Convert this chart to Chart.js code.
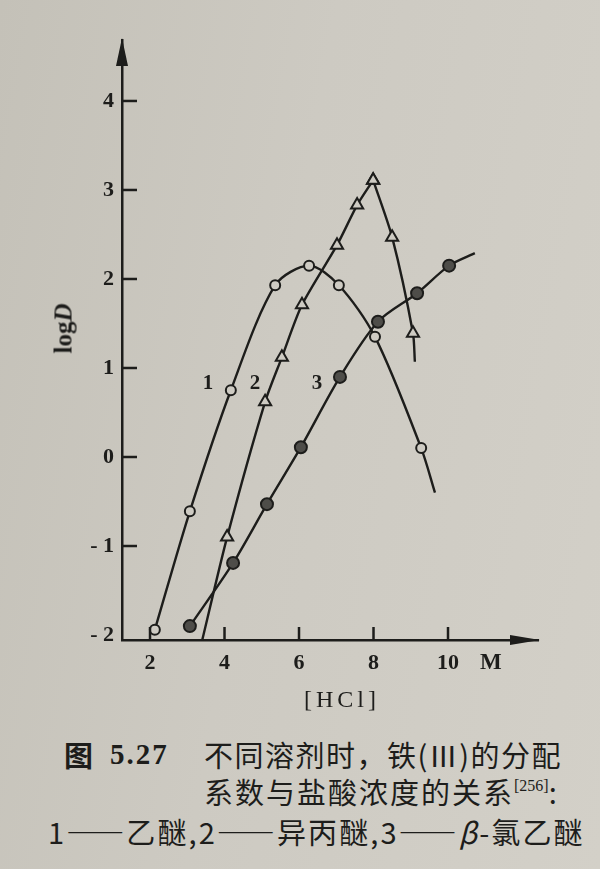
<!DOCTYPE html>
<html lang="zh">
<head>
<meta charset="UTF-8">
<title>图 5.27 铁(Ⅲ)的分配系数与盐酸浓度</title>
<script src="https://cdn.jsdelivr.net/npm/chart.js"></script>
<style>
    body { margin: 0; }
    .page {
        position: relative;
        width: 600px;
        height: 869px;
        overflow: hidden;
        background: linear-gradient(100deg, #c4c1b8 0%, #cdcac2 45%, #d3d0c8 100%);
        color: #1d1d1b;
        font-family: "Liberation Serif", serif;
    }
    #chart { position: absolute; left: 0; top: 0; }
    .txt { position: absolute; white-space: nowrap; line-height: 1; }
    .ylab { left: 38px; top: 316px; font-size: 25px; font-weight: bold; transform: rotate(-90deg); transform-origin: center; }
    .ylab i { font-style: italic; }
    .unit { left: 480px; top: 650px; font-size: 23px; font-weight: bold; }
    .xlab { left: 304px; top: 687px; font-size: 24px; letter-spacing: 4px; }
    .cap { font-family: "Noto Sans CJK SC", sans-serif; font-size: 29px; letter-spacing: 1.5px; }
    .cap sup { font-family: "Liberation Serif", serif; font-size: 16px; vertical-align: 13px; letter-spacing: 0; }
</style>
</head>
<body>
<div class="page">
    <canvas id="chart" width="600" height="720"></canvas>

    <div class="txt ylab">log<i>D</i></div>
    <div class="txt unit">M</div>
    <div class="txt xlab">[HCl]</div>

    <div class="txt cap" style="left:64px; top:740px; font-weight:bold;">图</div>
    <div class="txt cap" style="left:110px; top:740px; font-family:'Liberation Serif', serif; font-weight:bold; letter-spacing:2px;">5.27</div>
    <div class="txt cap" style="left:204px; top:740px;">不同溶剂时，铁(Ⅲ)的分配</div>
    <div class="txt cap" style="left:204px; top:777px; letter-spacing:2px;">系数与盐酸浓度的关系<sup>[256]</sup>:</div>
    <div class="txt cap" style="left:48px; top:817px; letter-spacing:2.1px;">1——乙醚,2——异丙醚,3——<i>β</i>-氯乙醚</div>
</div>

<script>
    // values: x = [HCl] (M), y = log D
    const xTicks = [2, 4, 6, 8, 10];
    const yTicks = [-2, -1, 0, 1, 2, 3, 4];
    const yTickLabels = ['- 2', '- 1', '0', '1', '2', '3', '4'];

    // 1 - ethyl ether (last point is only the end of the drawn curve)
    const ether1X = [2.13, 3.07, 4.17, 5.36, 6.27, 7.07, 8.04, 9.28, 9.65];
    const ether1Y = [-1.94, -0.61, 0.75, 1.93, 2.15, 1.93, 1.35, 0.10, -0.40];

    // 2 - isopropyl ether (first and last points are curve ends, peak at index 7)
    const ether2X = [3.40, 4.07, 5.09, 5.54, 6.08, 7.02, 7.56, 7.99, 8.50, 9.06, 9.11];
    const ether2Y = [-2.06, -0.90, 0.62, 1.12, 1.71, 2.38, 2.83, 3.11, 2.47, 1.39, 1.07];
    const ether2Peak = 7;

    // 3 - beta-chloroethyl ether (last point is only the end of the drawn curve)
    const ether3X = [3.07, 4.23, 5.14, 6.05, 7.10, 8.12, 9.17, 10.03, 10.72];
    const ether3Y = [-1.90, -1.19, -0.53, 0.11, 0.90, 1.52, 1.84, 2.15, 2.29];

    const curveNames = ['1', '2', '3'];
    const curveNameX = [3.56, 4.82, 6.48];
    const curveNameY = [0.83, 0.83, 0.83];

    const ink = '#1d1d1b';
    const paper = '#cecbc3';

    function pts(xs, ys, from, to) {
        const out = [];
        for (let i = from; i < to; i++) out.push({ x: xs[i], y: ys[i] });
        return out;
    }

    // hide the marker on points that are only curve ends
    function radiusSkip(r, skip) {
        return ctx => skip.includes(ctx.dataIndex) ? 0 : r;
    }

    const axisDecor = {
        id: 'axisDecor',
        afterDraw(chart) {
            const { ctx, chartArea: a, scales: { x, y } } = chart;
            ctx.save();
            ctx.strokeStyle = ink;
            ctx.fillStyle = ink;
            ctx.lineWidth = 2.5;
            ctx.lineCap = 'butt';

            // tick marks point into the plot
            yTicks.slice(1).forEach(v => {
                const py = y.getPixelForValue(v);
                ctx.beginPath();
                ctx.moveTo(a.left, py);
                ctx.lineTo(a.left + 15, py);
                ctx.stroke();
            });
            xTicks.forEach(v => {
                const px = x.getPixelForValue(v);
                ctx.beginPath();
                ctx.moveTo(px, a.bottom);
                ctx.lineTo(px, a.bottom - 13);
                ctx.stroke();
            });

            // arrow heads
            ctx.beginPath();
            ctx.moveTo(a.left, a.top - 2);
            ctx.lineTo(a.left - 6, a.top + 26);
            ctx.lineTo(a.left + 6, a.top + 26);
            ctx.closePath();
            ctx.fill();

            ctx.beginPath();
            ctx.moveTo(a.right + 2, a.bottom);
            ctx.lineTo(a.right - 28, a.bottom - 5);
            ctx.lineTo(a.right - 28, a.bottom + 5);
            ctx.closePath();
            ctx.fill();

            // curve numbers
            ctx.font = 'bold 21px "Liberation Serif"';
            ctx.textAlign = 'center';
            ctx.textBaseline = 'middle';
            curveNames.forEach((n, i) => {
                ctx.fillText(n, x.getPixelForValue(curveNameX[i]), y.getPixelForValue(curveNameY[i]));
            });
            ctx.restore();
        }
    };

    const n1 = ether1X.length;
    const n2 = ether2X.length;
    const n3 = ether3X.length;

    new Chart(document.getElementById('chart'), {
        type: 'scatter',
        data: {
            datasets: [{
                data: pts(ether1X, ether1Y, 0, n1),
                showLine: true,
                tension: 0.3,
                borderColor: ink,
                borderWidth: 2.4,
                pointStyle: 'circle',
                pointRadius: radiusSkip(5, [n1 - 1]),
                pointBorderWidth: 2,
                pointBorderColor: ink,
                pointBackgroundColor: paper
            }, {
                data: pts(ether2X, ether2Y, 0, ether2Peak + 1),
                showLine: true,
                tension: 0.25,
                borderColor: ink,
                borderWidth: 2.4,
                pointStyle: 'triangle',
                pointRadius: radiusSkip(7, [0]),
                pointBorderWidth: 2,
                pointBorderColor: ink,
                pointBackgroundColor: paper
            }, {
                data: pts(ether2X, ether2Y, ether2Peak, n2),
                showLine: true,
                tension: 0.25,
                borderColor: ink,
                borderWidth: 2.4,
                pointStyle: 'triangle',
                pointRadius: radiusSkip(7, [n2 - 1 - ether2Peak]),
                pointBorderWidth: 2,
                pointBorderColor: ink,
                pointBackgroundColor: paper
            }, {
                data: pts(ether3X, ether3Y, 0, n3),
                showLine: true,
                tension: 0.3,
                borderColor: ink,
                borderWidth: 2.4,
                pointStyle: 'circle',
                pointRadius: radiusSkip(6, [n3 - 1]),
                pointBorderWidth: 2,
                pointBorderColor: ink,
                pointBackgroundColor: '#4e4d49'
            }]
        },
        options: {
            responsive: false,
            animation: false,
            clip: false,
            layout: { padding: { top: 40, right: 62, left: 0, bottom: 0 } },
            plugins: {
                legend: { display: false },
                tooltip: { enabled: false }
            },
            scales: {
                x: {
                    type: 'linear',
                    min: 1.248,
                    max: 12.416,
                    afterFit: s => { s.height = 80; },
                    afterBuildTicks: s => { s.ticks = xTicks.map(v => ({ value: v })); },
                    grid: { display: false, drawTicks: false },
                    border: { display: true, color: ink, width: 2.5 },
                    ticks: {
                        color: ink,
                        padding: 10,
                        font: { family: 'Liberation Serif', size: 22, weight: 'bold' }
                    }
                },
                y: {
                    type: 'linear',
                    min: -2.056,
                    max: 4.685,
                    afterFit: s => { s.width = 122; },
                    afterBuildTicks: s => { s.ticks = yTicks.map(v => ({ value: v })); },
                    grid: { display: false, drawTicks: false },
                    border: { display: true, color: ink, width: 2.5 },
                    ticks: {
                        color: ink,
                        padding: 8,
                        font: { family: 'Liberation Serif', size: 22, weight: 'bold' },
                        callback: (v, i) => yTickLabels[yTicks.indexOf(v)]
                    }
                }
            }
        },
        plugins: [axisDecor]
    });
</script>
</body>
</html>
